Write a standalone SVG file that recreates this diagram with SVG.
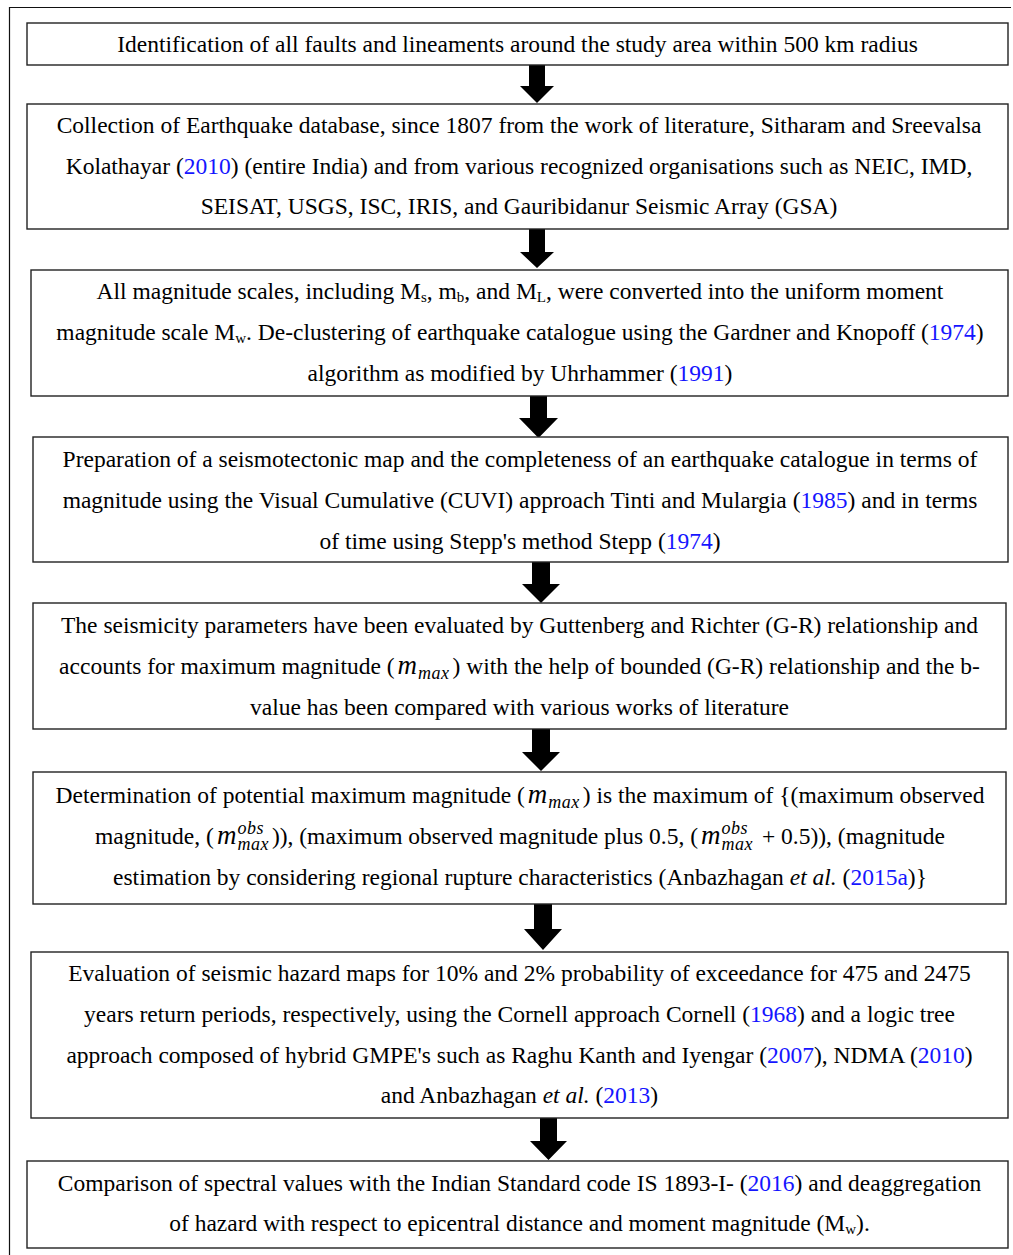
<svg xmlns="http://www.w3.org/2000/svg" width="1013" height="1255" viewBox="0 0 1013 1255">
<style>
.box{fill:#fff;stroke:#222;stroke-width:1.4}
.frame{fill:none;stroke:#111;stroke-width:1.2}
.t{font-family:"Liberation Serif","Times New Roman",serif;font-size:23.5px;fill:#000;text-anchor:middle}
.b{fill:#1515ff}
.sub{font-size:15px}
.mi{font-style:italic;font-size:27px}
.ei{font-style:italic}
.ms{font-style:italic;font-size:18px;letter-spacing:0.5px}
.arr{fill:#000}
</style>
<rect width="1013" height="1255" fill="#fff"/>
<path class="frame" d="M9.5 1255 V7.5 H1011"/>
<g id="connectors">
<polygon class="arr" points="529,65 545,65 545,86 554,86 537,103 520,86 529,86"/>
<polygon class="arr" points="529,229 545,229 545,252 554,252 537,268 520,252 529,252"/>
<polygon class="arr" points="530,396 547,396 547,418 558,418 538.5,438 519,418 530,418"/>
<polygon class="arr" points="532,562 550,562 550,584 560,584 541,603 522,584 532,584"/>
<polygon class="arr" points="532,729 550,729 550,752 560,752 541,771 522,752 532,752"/>
<polygon class="arr" points="534,904 552,904 552,929 562,929 543,950 524,929 534,929"/>
<polygon class="arr" points="540,1118 557,1118 557,1141 567,1141 548.5,1160 530,1141 540,1141"/>
</g>
<g id="n1">
<rect class="box" x="27" y="23" width="981" height="42"/>
<text class="t" x="517.5" y="52">Identification of all faults and lineaments around the study area within 500 km radius</text>
</g>
<g id="n2">
<rect class="box" x="27" y="104" width="981" height="125"/>
<text class="t" x="519" y="133">Collection of Earthquake database, since 1807 from the work of literature, Sitharam and Sreevalsa</text>
<text class="t" x="519" y="174">Kolathayar (<tspan class="b">2010</tspan>) (entire India) and from various recognized organisations such as NEIC, IMD,</text>
<text class="t" x="519" y="214">SEISAT, USGS, ISC, IRIS, and Gauribidanur Seismic Array (GSA)</text>
</g>
<g id="n3">
<rect class="box" x="31" y="270" width="977" height="126"/>
<text class="t" x="520" y="299">All magnitude scales, including M<tspan class="sub" dy="3">s</tspan><tspan dy="-3">, m</tspan><tspan class="sub" dy="3">b</tspan><tspan dy="-3">, and M</tspan><tspan class="sub" dy="3">L</tspan><tspan dy="-3">, were converted into the uniform moment</tspan></text>
<text class="t" x="520" y="340">magnitude scale M<tspan class="sub" dy="3">w</tspan><tspan dy="-3">. De-clustering of earthquake catalogue using the Gardner and Knopoff (</tspan><tspan class="b">1974</tspan>)</text>
<text class="t" x="520" y="381">algorithm as modified by Uhrhammer (<tspan class="b">1991</tspan>)</text>
</g>
<g id="n4">
<rect class="box" x="33" y="437" width="975" height="125"/>
<text class="t" x="520" y="467">Preparation of a seismotectonic map and the completeness of an earthquake catalogue in terms of</text>
<text class="t" x="520" y="508">magnitude using the Visual Cumulative (CUVI) approach Tinti and Mulargia (<tspan class="b">1985</tspan>) and in terms</text>
<text class="t" x="520" y="549">of time using Stepp's method Stepp (<tspan class="b">1974</tspan>)</text>
</g>
<g id="n5">
<rect class="box" x="33" y="603" width="973" height="126"/>
<text class="t" x="519.5" y="633">The seismicity parameters have been evaluated by Guttenberg and Richter (G-R) relationship and</text>
<text class="t" x="519.5" y="674">accounts for maximum magnitude (<tspan class="mi" dx="3">m</tspan><tspan class="ms" dx="1" dy="5">max</tspan><tspan dx="3" dy="-5">) with the help of bounded (G-R) relationship and the b-</tspan></text>
<text class="t" x="519.5" y="715">value has been compared with various works of literature</text>
</g>
<g id="n6">
<rect class="box" x="33" y="772" width="973" height="132"/>
<text class="t" x="520" y="803">Determination of potential maximum magnitude (<tspan class="mi" dx="3">m</tspan><tspan class="ms" dx="1" dy="5">max</tspan><tspan dx="3" dy="-5">) is the maximum of {(maximum observed</tspan></text>
<text class="t" x="520" y="844">magnitude, (<tspan class="mi" dx="3">m</tspan><tspan class="ms" dx="1" dy="-10">obs</tspan><tspan class="ms" dx="-26.5" dy="16">max</tspan><tspan dx="3" dy="-6">)), (maximum observed magnitude plus 0.5, (</tspan><tspan class="mi" dx="3">m</tspan><tspan class="ms" dx="1" dy="-10">obs</tspan><tspan class="ms" dx="-26.5" dy="16">max</tspan><tspan dx="3" dy="-6"> + 0.5)), (magnitude</tspan></text>
<text class="t" x="520" y="885">estimation by considering regional rupture characteristics (Anbazhagan <tspan class="ei">et al.</tspan> (<tspan class="b">2015a</tspan>)}</text>
</g>
<g id="n7">
<rect class="box" x="31" y="952" width="977" height="166"/>
<text class="t" x="519.5" y="981">Evaluation of seismic hazard maps for 10% and 2% probability of exceedance for 475 and 2475</text>
<text class="t" x="519.5" y="1022">years return periods, respectively, using the Cornell approach Cornell (<tspan class="b">1968</tspan>) and a logic tree</text>
<text class="t" x="519.5" y="1063">approach composed of hybrid GMPE's such as Raghu Kanth and Iyengar (<tspan class="b">2007</tspan>), NDMA (<tspan class="b">2010</tspan>)</text>
<text class="t" x="519.5" y="1103">and Anbazhagan <tspan class="ei">et al.</tspan> (<tspan class="b">2013</tspan>)</text>
</g>
<g id="n8">
<rect class="box" x="27" y="1161" width="981" height="87"/>
<text class="t" x="519.5" y="1191">Comparison of spectral values with the Indian Standard code IS 1893-I- (<tspan class="b">2016</tspan>) and deaggregation</text>
<text class="t" x="519.5" y="1231">of hazard with respect to epicentral distance and moment magnitude (M<tspan class="sub" dy="3">w</tspan><tspan dy="-3">).</tspan></text>
</g>
</svg>
